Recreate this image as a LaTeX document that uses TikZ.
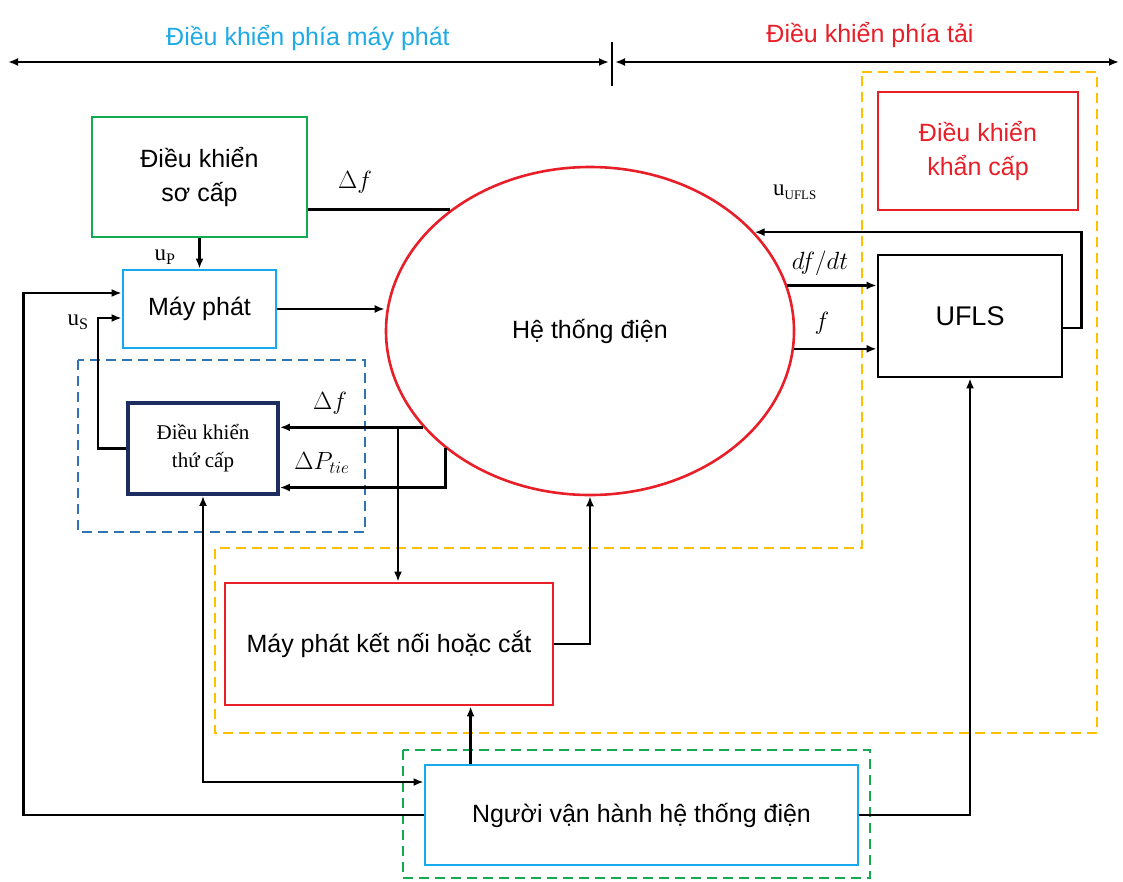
\documentclass[tikz,border=0pt]{standalone}
\usepackage{fontspec}
\setmainfont{Liberation Sans}
\newfontfamily\timesfont{Liberation Serif}
\usetikzlibrary{shapes.geometric,arrows.meta}

\definecolor{sideblue}{RGB}{30,170,228}
\definecolor{sidered}{RGB}{232,30,40}
\definecolor{boxgreen}{RGB}{20,170,80}
\definecolor{boxcyan}{RGB}{20,170,235}
\definecolor{dashblue}{RGB}{46,117,182}
\definecolor{navy}{RGB}{30,45,95}
\definecolor{dashyellow}{RGB}{255,192,0}

\tikzset{
  box/.style={draw,line width=2.8pt,align=center,font=\fontsize{25}{34}\selectfont},
  lbl/.style={font=\fontsize{26}{30}\selectfont},
  ulbl/.style={font=\timesfont\fontsize{23}{24}\selectfont},
  zone/.style={line width=2.8pt,dash pattern=on 10pt off 6pt}
}

\begin{document}
\begin{tikzpicture}[x=1pt,y=-1pt,line width=2.7pt,>={Latex[length=10pt,width=8pt]}]
        \useasboundingbox (0,0) rectangle (1123,881);

        % thang chia hai phia
        \draw[<->] (8,62) -- (609,62);
        \draw[<->] (615,62) -- (1119,62);
        \draw (612,42) -- (612,86);
        \node[text=sideblue,font=\fontsize{25}{30}\selectfont] (ttgen) at (308,38) {Điều khiển phía máy phát};
        \node[text=sidered,font=\fontsize{25}{30}\selectfont] (ttload) at (870,35) {Điều khiển phía tải};

        % cac vung net dut
        \draw[zone,dashblue] (78,360) rectangle (365,532);
        \draw[zone,dashyellow] (862,72) -- (1097,72) -- (1097,733) -- (215,733) -- (215,548) -- (862,548) -- cycle;
        \draw[zone,boxgreen] (403,750) rectangle (870,878);

        % cac khoi
        \node[box,draw=boxgreen,minimum width=215pt,minimum height=120pt] (prim) at (199.5,177) {Điều khiển\\sơ cấp};
        \node[box,draw=boxcyan,minimum width=153pt,minimum height=78pt] (gen) at (199.5,309) {Máy phát};
        \node[box,draw=navy,line width=3.8pt,minimum width=150pt,minimum height=91pt,font=\timesfont\fontsize{21}{28}\selectfont] (sec) at (203,448.5) {Điều khiển\\thứ cấp};
        \node[ellipse,draw=sidered,line width=2.6pt,minimum width=408pt,minimum height=328pt,font=\fontsize{25}{30}\selectfont] (sys) at (590,331) {Hệ thống điện};
        \node[box,draw=sidered,minimum width=328pt,minimum height=122pt] (conn) at (389,644) {Máy phát kết nối hoặc cắt};
        \node[box,draw=boxcyan,minimum width=433pt,minimum height=100pt] (op) at (641.5,815) {Người vận hành hệ thống điện};
        \node[box,draw=sidered,text=sidered,minimum width=200pt,minimum height=118pt] (emerg) at (978,151) {Điều khiển\\khẩn cấp};
        \node[box,draw=black,minimum width=184pt,minimum height=122pt,font=\fontsize{27}{30}\selectfont] (ufls) at (970,316) {UFLS};

        % ket noi phia may phat
        \draw (sys.139) -- (prim.east |- sys.139);
        \draw[->] (prim.south) -- (gen.north);
        \draw[->] (gen.east) -- (gen.east -| sys.west);
        \draw[->] (sys.210) -- (sec.east |- sys.210);
        \draw[->] (sys.219) |- ([yshift=-39pt]sec.east);
        \draw[->] ([xshift=9pt]conn.north |- sys.210) -- ([xshift=9pt]conn.north);
        \draw[->] (sec.west) -- ++(-28,0) |- ([yshift=-9pt]gen.west);
        \draw[->] (op.west) -- ++(-400,0) |- ([yshift=16pt]gen.west);
        \draw[<->] (sec.south) |- ([yshift=33pt]op.west);
        \draw[->] (conn.east) -| (sys.south);
        \draw[->] ([xshift=47pt]op.north west) -- ([xshift=47pt]op.north west |- conn.south);

        % ket noi phia tai
        \draw[->] (sys.13) -- (sys.13 -| ufls.west);
        \draw[->] (sys.355.5) -- (sys.355.5 -| ufls.west);
        \draw[->] ([yshift=-12pt]ufls.east) -- ++(18,0) |- (sys.31);
        \draw[->] (op.east) -| (ufls.south);

        % nhan
        \node[lbl] (dfa) at (355,182) {$\Delta f$};
        \node[lbl] (dfb) at (330,403) {$\Delta f$};
        \node[lbl] (dptie) at (322,463) {$\Delta P_{tie}$};
        \node[lbl] (dfdt) at (820,263) {$df/dt$};
        \node[lbl] (fl) at (822,323) {$f$};
        \node[ulbl] (up) at (165,257) {u\textsubscript{P}};
        \node[ulbl] (us) at (78,322) {u\textsubscript{S}};
        \node[ulbl] (uufls) at (795,192) {u\textsubscript{\fontsize{13}{13}\selectfont UFLS}};
      \end{tikzpicture}
\end{document}
